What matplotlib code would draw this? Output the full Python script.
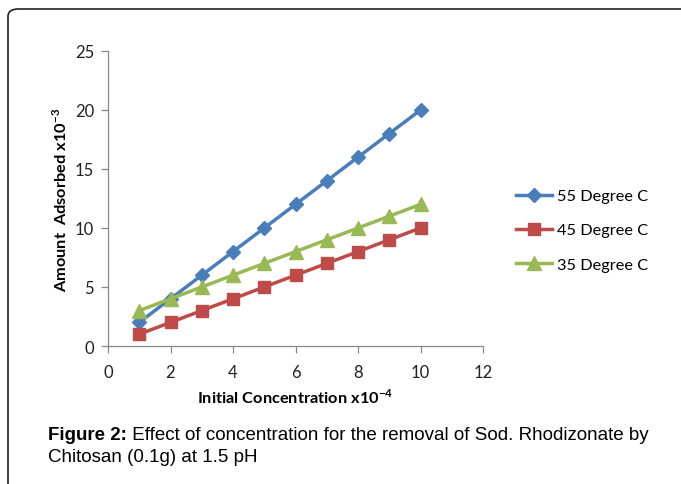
import matplotlib
matplotlib.use("Agg")
import matplotlib.pyplot as plt
from matplotlib.patches import FancyBboxPatch

conc = [1, 2, 3, 4, 5, 6, 7, 8, 9, 10]
s55 = [2, 4, 6, 8, 10, 12, 14, 16, 18, 20]
s45 = [1, 2, 3, 4, 5, 6, 7, 8, 9, 10]
s35 = [3, 4, 5, 6, 7, 8, 9, 10, 11, 12]
labels = ["55 Degree C", "45 Degree C", "35 Degree C"]
xticks = [0, 2, 4, 6, 8, 10, 12]
yticks = [0, 5, 10, 15, 20, 25]

plt.rcParams['font.family'] = ['Lato', 'DejaVu Sans']
plt.rcParams['mathtext.fontset'] = 'custom'
plt.rcParams['mathtext.rm'] = 'Lato'
plt.rcParams['mathtext.bf'] = 'Lato:bold'

fig = plt.figure(figsize=(6.81, 4.85), dpi=100)

# border frame
frame = FancyBboxPatch((8/681, -0.1), 1.2, (485-10)/485 + 0.1,
                       boxstyle="round,pad=0,rounding_size=0.015",
                       transform=fig.transFigure, fill=False,
                       edgecolor='#222222', linewidth=1.2, clip_on=False)
fig.patches.append(frame)

ax = fig.add_axes([108/681, 138/485, 375/681, 295/485])
ax.plot(conc, s55, color='#4A7EBB', lw=2.5, marker='D', ms=7, label=labels[0])
ax.plot(conc, s45, color='#BE4B48', lw=2.5, marker='s', ms=9, label=labels[1])
ax.plot(conc, s35, color='#98B954', lw=2.5, marker='^', ms=10, label=labels[2])

ax.set_xlim(0, 12)
ax.set_ylim(0, 25)
ax.set_xticks(xticks)
ax.set_yticks(yticks)
for s in ['top', 'right']:
    ax.spines[s].set_visible(False)
for s in ['left', 'bottom']:
    ax.spines[s].set_color('#888888')
    ax.spines[s].set_linewidth(0.9)
ax.tick_params(axis='both', colors='#888888', labelcolor='#222222',
               labelsize=12, length=5, width=0.9)
ax.tick_params(axis='x', pad=8)
ax.tick_params(axis='y', pad=5)

ax.set_xlabel(r"Initial Concentration x10$^{\mathbf{-4}}$", fontsize=11.8,
              fontweight='bold', labelpad=5)
ax.set_ylabel(r"Amount  Adsorbed x10$^{\mathbf{-3}}$", fontsize=11.8,
              fontweight='bold', labelpad=4)

leg = ax.legend(loc='upper left', bbox_to_anchor=(1.07, 0.555), frameon=False,
                fontsize=11.8, handlelength=2.2, handletextpad=0.3,
                labelspacing=1.2, borderaxespad=0)

t1 = fig.text(48/681, 1 - 436/485, "Figure 2:", fontsize=13.5, fontweight='bold',
              family='Liberation Sans', va='center', ha='left')
fig.canvas.draw()
ax.annotate(" Effect of concentration for the removal of Sod. Rhodizonate by",
            xy=(1, 0.5), xycoords=t1, va='center', ha='left',
            fontsize=13.5, family='Liberation Sans', annotation_clip=False)
fig.text(48/681, 1 - 458/485, "Chitosan (0.1g) at 1.5 pH", fontsize=13.5,
         family='Liberation Sans', va='center', ha='left')

fig.savefig("out.png", dpi=100)
